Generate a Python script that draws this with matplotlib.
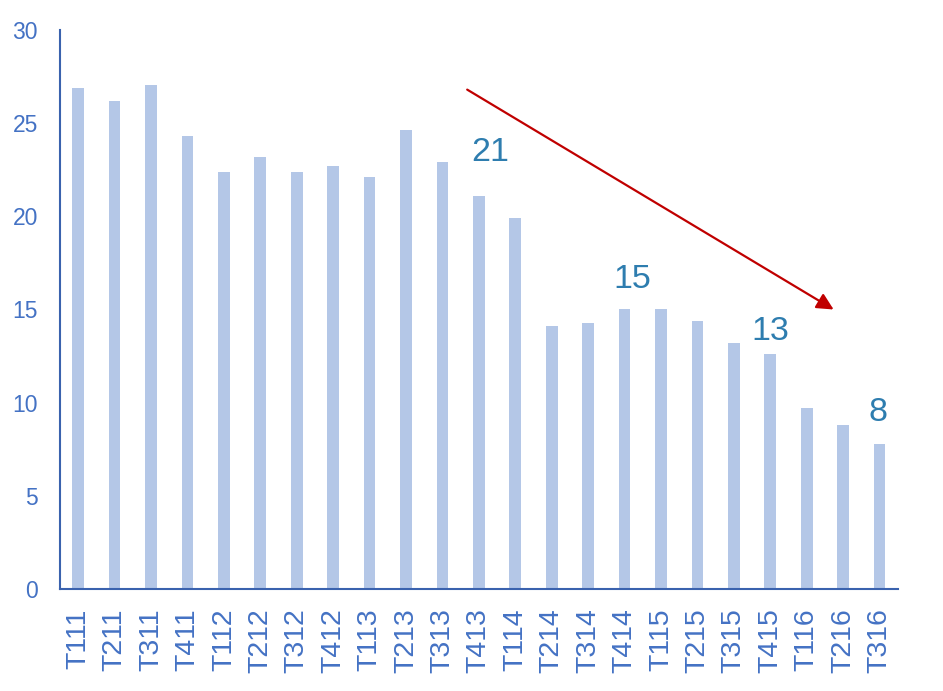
import matplotlib.pyplot as plt

plt.rcParams['font.family'] = ['Liberation Sans', 'DejaVu Sans']

categories = ['T111', 'T211', 'T311', 'T411', 'T112', 'T212', 'T312', 'T412',
              'T113', 'T213', 'T313', 'T413', 'T114', 'T214', 'T314', 'T414',
              'T115', 'T215', 'T315', 'T415', 'T116', 'T216', 'T316']
values = [26.9, 26.2, 27.05, 24.3, 22.4, 23.2, 22.4, 22.7,
          22.1, 24.65, 22.9, 21.1, 19.9, 14.1, 14.3, 15.0,
          15.0, 14.4, 13.2, 12.6, 9.7, 8.8, 7.8]

# highlighted values: (category index, label, text x, text y)
callouts = [(11, '21', 11.3, 23.4), (15, '15', 15.2, 16.6),
            (19, '13', 19.0, 13.8), (22, '8', 21.95, 9.45)]

fig = plt.figure(figsize=(9.43, 6.91), dpi=100)
ax = fig.add_axes([0.0636, 0.1476, 0.8884, 0.809])

x = range(len(categories))
ax.bar(x, values, width=0.32, color='#B4C7E7')

ax.set_xlim(-0.5, len(categories) - 0.5)
ax.set_ylim(0, 30)
ax.set_yticks(range(0, 31, 5))
ax.set_xticks(list(x))
ax.set_xticklabels(categories, rotation=90)

axis_col = '#3A62AE'
label_col = '#4472C4'
for side in ['top', 'right']:
    ax.spines[side].set_visible(False)
for side in ['left', 'bottom']:
    ax.spines[side].set_color(axis_col)
    ax.spines[side].set_linewidth(1.5)

ax.tick_params(axis='y', length=0, pad=16, labelsize=16.5, labelcolor=label_col)
ax.tick_params(axis='x', length=0, pad=14, labelsize=20.5, labelcolor=label_col)

for idx, lab, tx, ty in callouts:
    ax.text(tx, ty, lab, ha='center', va='center', fontsize=24.5, color='#2E7DAF')

ax.annotate('', xy=(20.74, 15.0), xytext=(10.68, 26.8),
            arrowprops=dict(arrowstyle='-|>', color='#C00000', lw=1.6,
                            mutation_scale=25, shrinkA=0, shrinkB=0))

fig.savefig('out.png', dpi=100)
